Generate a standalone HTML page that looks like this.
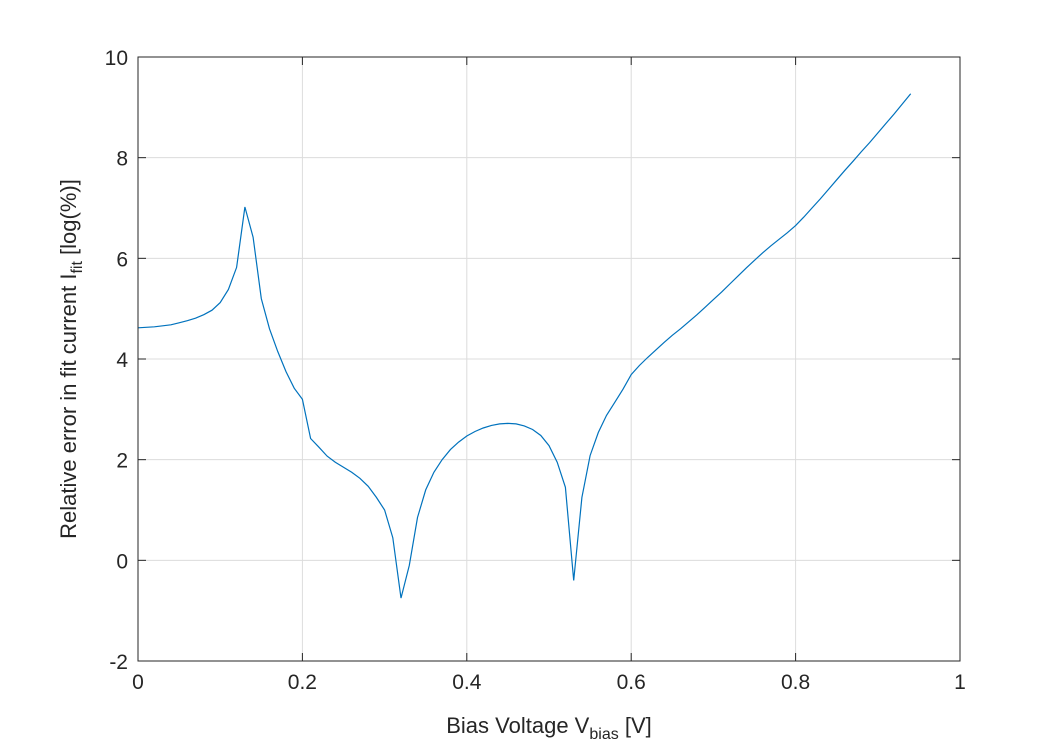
<!DOCTYPE html>
<html><head><meta charset="utf-8"><style>
body{margin:0;background:#fff;width:1062px;height:750px;overflow:hidden}
svg{font-family:"Liberation Sans",Arial,sans-serif}
</style></head><body>
<svg id="chart" width="1062" height="750">
<rect x="0" y="0" width="1062" height="750" fill="#fff"/>
<g id="grid"></g><g id="ticks"></g>
<path id="line" fill="none" stroke="#0072bd" stroke-width="1.2"/>
<rect x="138" y="57" width="822" height="604" fill="none" stroke="#262626" stroke-width="1"/>
<text x="549" y="733" font-size="22" text-anchor="middle" fill="#262626">Bias Voltage V<tspan font-size="16" dy="6">bias</tspan><tspan dy="-6"> [V]</tspan></text>
<text transform="translate(76,359) rotate(-90)" font-size="22" text-anchor="middle" fill="#262626">Relative error in fit current I<tspan font-size="16" dy="6">fit</tspan><tspan dy="-6"> [log(%)]</tspan></text>
</svg>
<script>
const xTicks=[0,0.2,0.4,0.6,0.8,1];
const xTickLabels=["0","0.2","0.4","0.6","0.8","1"];
const yTicks=[-2,0,2,4,6,8,10];
const yTickLabels=["-2","0","2","4","6","8","10"];
const xValues=[0,0.01,0.02,0.03,0.04,0.05,0.06,0.07,0.08,0.09,0.10,0.11,0.12,0.13,0.14,0.15,0.16,0.17,0.18,0.19,0.20,0.21,0.22,0.23,0.24,0.25,0.26,0.27,0.28,0.29,0.30,0.31,0.32,0.33,0.34,0.35,0.36,0.37,0.38,0.39,0.40,0.41,0.42,0.43,0.44,0.45,0.46,0.47,0.48,0.49,0.50,0.51,0.52,0.53,0.54,0.55,0.56,0.57,0.58,0.59,0.60,0.61,0.62,0.63,0.64,0.65,0.66,0.67,0.68,0.69,0.70,0.71,0.72,0.73,0.74,0.75,0.76,0.77,0.78,0.79,0.80,0.81,0.82,0.83,0.84,0.85,0.86,0.87,0.88,0.89,0.90,0.91,0.92,0.93,0.94];
const errValues=[4.62,4.63,4.64,4.66,4.68,4.72,4.76,4.81,4.88,4.97,5.12,5.38,5.82,7.02,6.42,5.2,4.6,4.15,3.75,3.42,3.2,2.42,2.25,2.07,1.95,1.85,1.75,1.63,1.47,1.25,1.0,0.45,-0.75,-0.1,0.85,1.4,1.75,2.0,2.2,2.35,2.47,2.56,2.63,2.68,2.71,2.72,2.71,2.67,2.6,2.48,2.28,1.95,1.45,-0.4,1.25,2.08,2.54,2.88,3.14,3.4,3.69,3.87,4.03,4.18,4.33,4.47,4.6,4.74,4.88,5.03,5.18,5.33,5.49,5.65,5.81,5.96,6.11,6.25,6.38,6.51,6.65,6.82,7.0,7.18,7.37,7.56,7.75,7.93,8.12,8.3,8.49,8.68,8.87,9.07,9.27];
const L=138,R=960,T=57,B=661,xMin=0,xMax=1,yMin=-2,yMax=10;
const sx=v=>L+(v-xMin)/(xMax-xMin)*(R-L);
const sy=v=>B-(v-yMin)/(yMax-yMin)*(B-T);
const NS="http://www.w3.org/2000/svg";
const grid=document.getElementById('grid'),ticks=document.getElementById('ticks');
function mk(tag,attrs,parent){const e=document.createElementNS(NS,tag);for(const k in attrs)e.setAttribute(k,attrs[k]);parent.appendChild(e);return e;}
xTicks.forEach((t,i)=>{
  const g=mk('line',{x1:sx(t),x2:sx(t),y1:T,y2:B,stroke:'#dcdcdc','stroke-width':1},grid);
  
  
  const tk=mk('line',{x1:sx(t),x2:sx(t),y1:B,y2:B-8,stroke:'#262626'},ticks);
  
  
  const tk2=mk('line',{x1:sx(t),x2:sx(t),y1:T,y2:T+8,stroke:'#262626'},ticks);
  
  
  const tx=mk('text',{x:sx(t),y:B+28,'font-size':21,'text-anchor':'middle',fill:'#262626'},ticks);
  tx.textContent=xTickLabels[i];
  
  
});
yTicks.forEach((t,i)=>{
  const g=mk('line',{x1:L,x2:R,y1:sy(t),y2:sy(t),stroke:'#dcdcdc','stroke-width':1},grid);
  
  
  const tk=mk('line',{x1:L,x2:L+8,y1:sy(t),y2:sy(t),stroke:'#262626'},ticks);
  
  
  const tk2=mk('line',{x1:R,x2:R-8,y1:sy(t),y2:sy(t),stroke:'#262626'},ticks);
  
  
  const tx=mk('text',{x:L-10,y:sy(t)+8,'font-size':21,'text-anchor':'end',fill:'#262626'},ticks);
  tx.textContent=yTickLabels[i];
  
  
});
document.getElementById('line').setAttribute('d',xValues.map((x,i)=>(i?'L':'M')+sx(x).toFixed(1)+','+sy(errValues[i]).toFixed(1)).join(''));
</script>
</body></html>
